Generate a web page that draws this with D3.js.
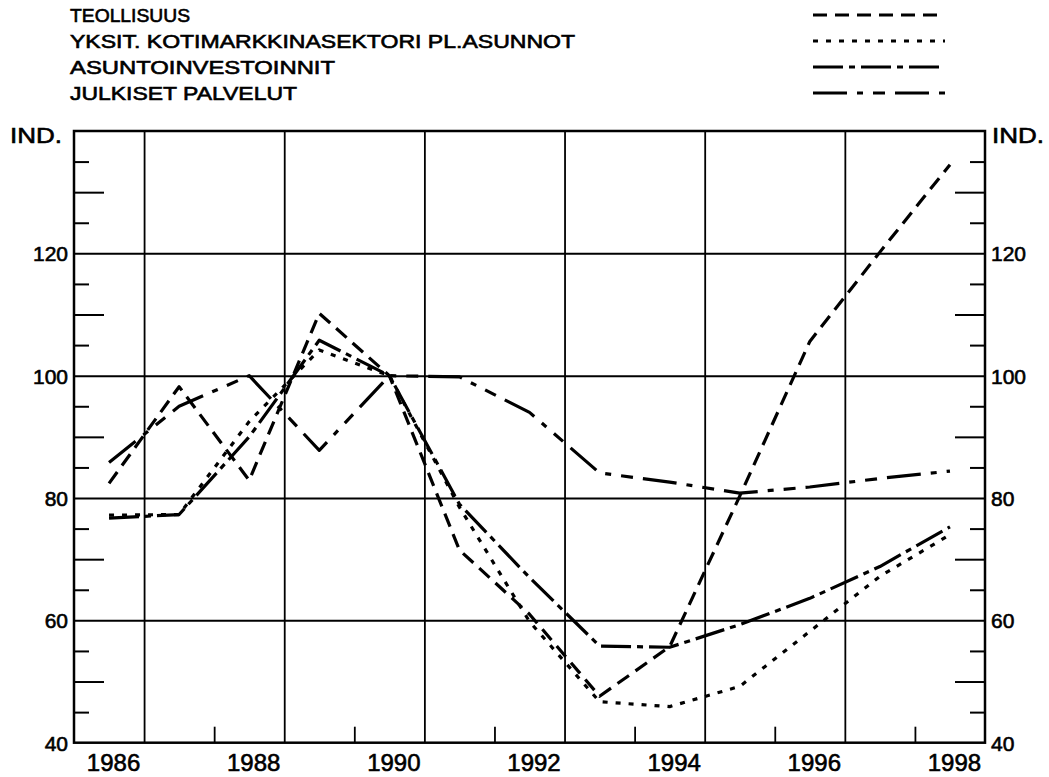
<!DOCTYPE html>
<html><head><meta charset="utf-8">
<script src="https://cdn.jsdelivr.net/npm/d3@7"></script>
<style>
html,body{margin:0;padding:0;background:#fff;}
svg{display:block;}
.lbl{font-family:"Liberation Sans","DejaVu Sans",sans-serif;fill:#000;stroke:#000;stroke-width:0.6px;}
</style>
</head><body>
<svg id="c" width="1049" height="777"></svg>
<script>
const years = [1986,1987,1988,1989,1990,1991,1992,1993,1994,1995,1996,1997,1998];
const teollisuus = [82.4,98.2,82.9,110.2,100,71.5,61,47.6,55.7,80.3,105.6,120.2,134.5];
const yksit      = [77.2,77.3,92.5,104.2,100,78.5,59.8,46.7,45.9,49.2,58.2,67.2,74.0];
const asunto     = [76.7,77.3,90.0,105.8,100,79.0,67.0,55.8,55.6,59.3,63.6,68.8,75.3];
const julkiset   = [85.8,95.0,100,87.8,100,99.8,94.0,84.1,82.6,80.8,81.8,83.2,84.4];
const seriesNames = ["TEOLLISUUS","YKSIT. KOTIMARKKINASEKTORI PL.ASUNNOT","ASUNTOINVESTOINNIT","JULKISET PALVELUT"];
const yLabels = [40,60,80,100,120];
const xLabels = [1986,1988,1990,1992,1994,1996,1998];
const yGrid = [60,80,100,120];
const xGrid = [1986.5,1988.5,1990.5,1992.5,1994.5,1996.5];
const xMinor = [1987.5,1989.5,1991.5,1993.5,1995.5,1997.5];
const yMinorShort = [45,55,65,75,85,95,105,115,125,135];
const yMinorLong = [50,70,90,110,130];
const unitLabel = "IND.";

const dashes = ["14,8","5,8","30,6,6,6","34,10,6,10,12,10"];
const data = [teollisuus,yksit,asunto,julkiset];

const L=74,R=985,T=131,B=742.7;
const svg = d3.select("#c");
const x = d3.scaleLinear().domain([1985.5,1998.5]).range([L,R]);
const y = d3.scaleLinear().domain([40,140]).range([B,T]);

// grids
svg.append("g").attr("transform",`translate(${L},0)`)
  .call(d3.axisLeft(y).tickValues(yGrid).tickSize(-(R-L)).tickFormat(""))
  .call(g=>g.select(".domain").remove())
  .selectAll("line").attr("stroke","#000").attr("stroke-width",2);
svg.append("g").attr("transform",`translate(0,${B})`)
  .call(d3.axisBottom(x).tickValues(xGrid).tickSize(-(B-T)).tickFormat(""))
  .call(g=>g.select(".domain").remove())
  .selectAll("line").attr("stroke","#000").attr("stroke-width",1.8);
// minor ticks
svg.append("g").attr("transform",`translate(0,${B})`)
  .call(d3.axisBottom(x).tickValues(xMinor).tickSize(-16).tickFormat(""))
  .call(g=>g.select(".domain").remove())
  .selectAll("line").attr("stroke","#000").attr("stroke-width",1.8);
[[yMinorShort,15],[yMinorLong,30]].forEach(([vals,len])=>{
  svg.append("g").attr("transform",`translate(${L},0)`)
    .call(d3.axisRight(y).tickValues(vals).tickSize(len).tickFormat(""))
    .call(g=>g.select(".domain").remove())
    .selectAll("line").attr("stroke","#000").attr("stroke-width",2);
  svg.append("g").attr("transform",`translate(${R},0)`)
    .call(d3.axisLeft(y).tickValues(vals).tickSize(len).tickFormat(""))
    .call(g=>g.select(".domain").remove())
    .selectAll("line").attr("stroke","#000").attr("stroke-width",2);
});
// frame
svg.append("rect").attr("x",L).attr("y",T).attr("width",R-L).attr("height",B-T)
  .attr("fill","none").attr("stroke","#000").attr("stroke-width",2.5);

// y labels
const yl = svg.append("g").attr("transform",`translate(${L},0)`)
  .call(d3.axisLeft(y).tickValues(yLabels).tickSize(0).tickPadding(6));
yl.select(".domain").remove();
yl.selectAll("text").attr("class","lbl").attr("font-size",21).attr("dy","0.36em");
const yr = svg.append("g").attr("transform",`translate(${R},0)`)
  .call(d3.axisRight(y).tickValues(yLabels).tickSize(0).tickPadding(6));
yr.select(".domain").remove();
yr.selectAll("text").attr("class","lbl").attr("font-size",21).attr("dy","0.36em");
// x labels
const xl = svg.append("g").attr("transform",`translate(4,${B})`)
  .call(d3.axisBottom(x).tickValues(xLabels).tickSize(0).tickPadding(11).tickFormat(d3.format("d")));
xl.select(".domain").remove();
xl.selectAll("text").attr("class","lbl").attr("font-size",24).attr("dy","0.71em");

// unit labels
svg.append("text").attr("class","lbl").attr("x",10).attr("y",143).attr("font-size",22)
  .attr("textLength",52).attr("lengthAdjust","spacingAndGlyphs").text(unitLabel);
svg.append("text").attr("class","lbl").attr("x",992).attr("y",143).attr("font-size",22)
  .attr("textLength",52).attr("lengthAdjust","spacingAndGlyphs").text(unitLabel);

// lines
const line = d3.line().x((d,i)=>x(years[i])).y(d=>y(d));
data.forEach((s,k)=>{
  svg.append("path").datum(s).attr("d",line).attr("fill","none").attr("stroke","#000")
    .attr("stroke-width",3.2).attr("stroke-dasharray",dashes[k]).attr("stroke-linejoin","round");
});

// legend
const widths=[120,505,265,227];
seriesNames.forEach((n,k)=>{
  const yy = 22+26*k;
  svg.append("text").attr("class","lbl").attr("x",70).attr("y",yy).attr("font-size",18.5)
    .attr("textLength",widths[k]).attr("lengthAdjust","spacingAndGlyphs").text(n);
  svg.append("path").datum([[813,yy-7],[945,yy-7]]).attr("d",d3.line())
    .attr("stroke","#000").attr("stroke-width",3.2).attr("stroke-dasharray",dashes[k]);
});
</script>
</body></html>
